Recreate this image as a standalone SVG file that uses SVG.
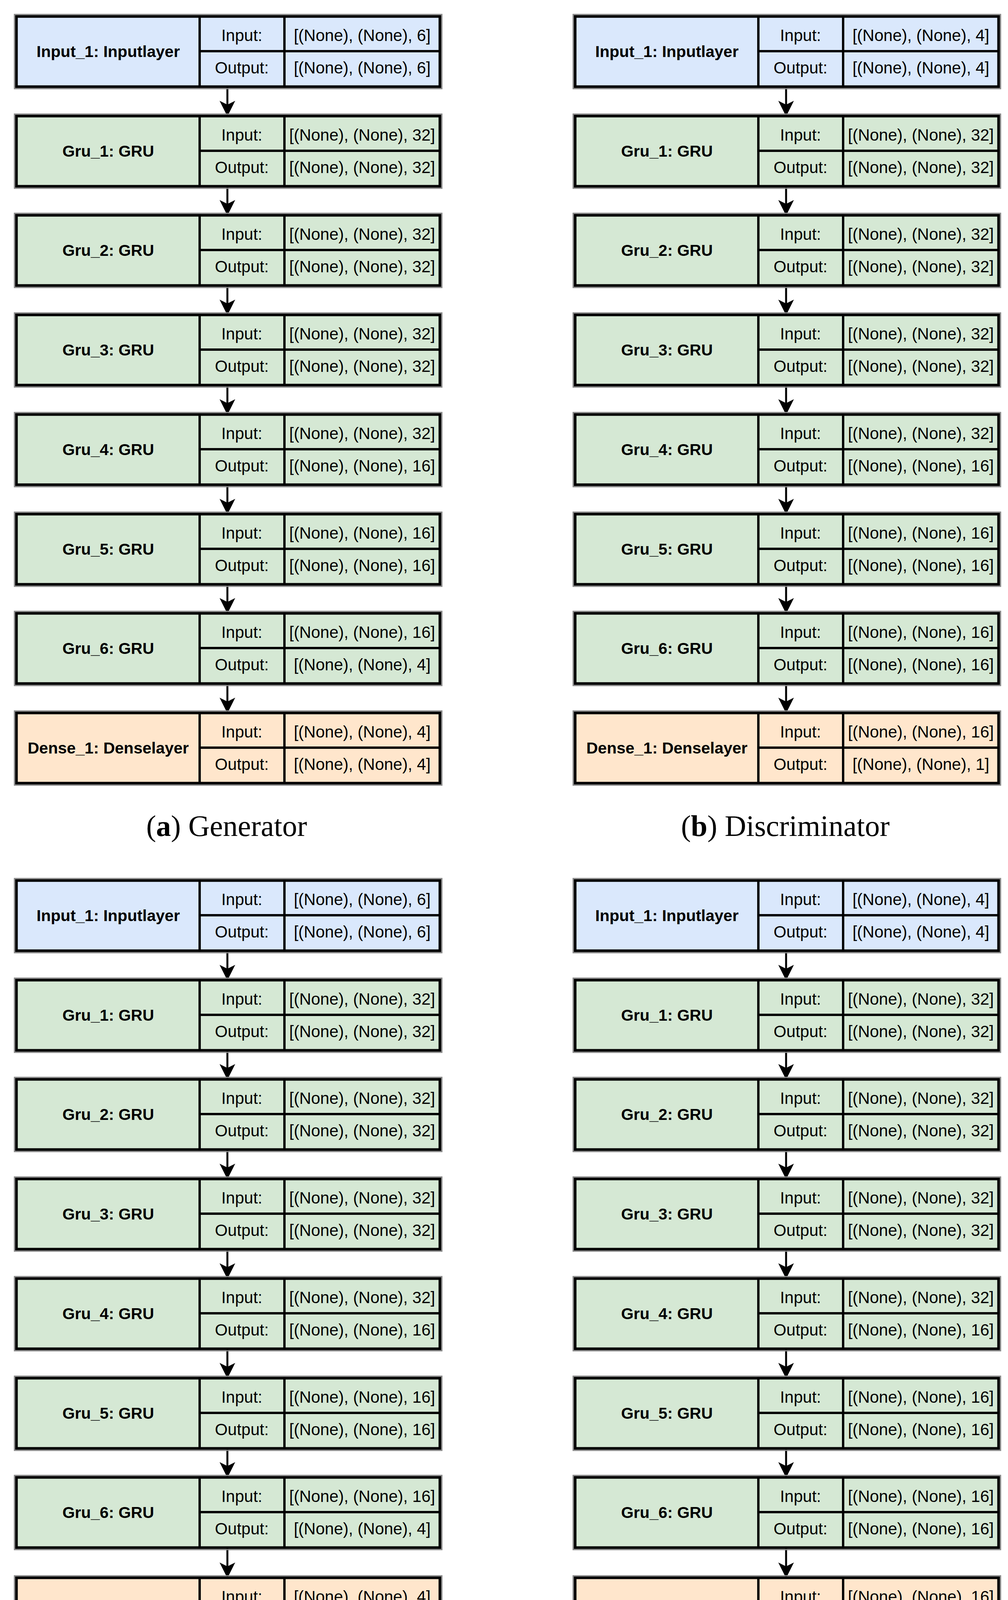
<svg xmlns="http://www.w3.org/2000/svg" width="2580" height="4396" viewBox="0 0 2580 4396">
<style>
.c{stroke:#000;stroke-width:6}
.b{fill:#dae8fc}.g{fill:#d5e8d4}.o{fill:#ffe6cc}
.n{font-family:"Liberation Sans",Arial,sans-serif;font-weight:bold;font-size:41px;text-anchor:middle}
.t{font-family:"Liberation Sans",Arial,sans-serif;font-size:42px;text-anchor:middle}
.cap{font-family:"Liberation Serif","Times New Roman",serif;font-size:76px;text-anchor:middle}
.ln{stroke:#000;stroke-width:5;fill:none}
</style>
<defs>
<marker id="ah" markerWidth="8" markerHeight="8" refX="7" refY="4" orient="auto" markerUnits="strokeWidth"><path d="M0,0 L8,4 L0,8 L2,4 z" fill="#000"/></marker>
<g id="frame"><line class="c" x1="469" y1="0" x2="469" y2="180"/><line class="c" x1="686" y1="0" x2="686" y2="180"/><line class="c" x1="469" y1="89" x2="1084" y2="89" stroke-width="8"/><rect x="0" y="0" width="1084" height="180" fill="none" stroke="#000" stroke-width="7"/><rect x="-5" y="-5" width="1094" height="190" fill="none" stroke="#888" stroke-width="3"/></g>
</defs>
<g id="connectors">
<line class="ln" x1="582" y1="222" x2="582" y2="293" marker-end="url(#ah)"/>
<line class="ln" x1="582" y1="477" x2="582" y2="547" marker-end="url(#ah)"/>
<line class="ln" x1="582" y1="731" x2="582" y2="802" marker-end="url(#ah)"/>
<line class="ln" x1="582" y1="986" x2="582" y2="1057" marker-end="url(#ah)"/>
<line class="ln" x1="582" y1="1241" x2="582" y2="1312" marker-end="url(#ah)"/>
<line class="ln" x1="582" y1="1496" x2="582" y2="1566" marker-end="url(#ah)"/>
<line class="ln" x1="582" y1="1750" x2="582" y2="1821" marker-end="url(#ah)"/>
<line class="ln" x1="2012" y1="222" x2="2012" y2="293" marker-end="url(#ah)"/>
<line class="ln" x1="2012" y1="477" x2="2012" y2="547" marker-end="url(#ah)"/>
<line class="ln" x1="2012" y1="731" x2="2012" y2="802" marker-end="url(#ah)"/>
<line class="ln" x1="2012" y1="986" x2="2012" y2="1057" marker-end="url(#ah)"/>
<line class="ln" x1="2012" y1="1241" x2="2012" y2="1312" marker-end="url(#ah)"/>
<line class="ln" x1="2012" y1="1496" x2="2012" y2="1566" marker-end="url(#ah)"/>
<line class="ln" x1="2012" y1="1750" x2="2012" y2="1821" marker-end="url(#ah)"/>
<line class="ln" x1="582" y1="2434" x2="582" y2="2505" marker-end="url(#ah)"/>
<line class="ln" x1="582" y1="2689" x2="582" y2="2759" marker-end="url(#ah)"/>
<line class="ln" x1="582" y1="2943" x2="582" y2="3014" marker-end="url(#ah)"/>
<line class="ln" x1="582" y1="3198" x2="582" y2="3269" marker-end="url(#ah)"/>
<line class="ln" x1="582" y1="3453" x2="582" y2="3524" marker-end="url(#ah)"/>
<line class="ln" x1="582" y1="3708" x2="582" y2="3778" marker-end="url(#ah)"/>
<line class="ln" x1="582" y1="3962" x2="582" y2="4035" marker-end="url(#ah)"/>
<line class="ln" x1="2012" y1="2434" x2="2012" y2="2505" marker-end="url(#ah)"/>
<line class="ln" x1="2012" y1="2689" x2="2012" y2="2759" marker-end="url(#ah)"/>
<line class="ln" x1="2012" y1="2943" x2="2012" y2="3014" marker-end="url(#ah)"/>
<line class="ln" x1="2012" y1="3198" x2="2012" y2="3269" marker-end="url(#ah)"/>
<line class="ln" x1="2012" y1="3453" x2="2012" y2="3524" marker-end="url(#ah)"/>
<line class="ln" x1="2012" y1="3708" x2="2012" y2="3778" marker-end="url(#ah)"/>
<line class="ln" x1="2012" y1="3962" x2="2012" y2="4035" marker-end="url(#ah)"/>
</g>

<!-- Panel a -->
<g id="a_input" transform="translate(42,42)"><rect class="b" width="1084" height="180"/><use href="#frame"/><text class="n" x="235" y="104">Input_1: Inputlayer</text><text class="t" x="577" y="63">Input:</text><text class="t" x="577" y="146">Output:</text><text class="t" x="885" y="63">[(None), (None), 6]</text><text class="t" x="885" y="146">[(None), (None), 6]</text></g>
<g id="a_gru1" transform="translate(42,297)"><rect class="g" width="1084" height="180"/><use href="#frame"/><text class="n" x="235" y="104">Gru_1: GRU</text><text class="t" x="577" y="63">Input:</text><text class="t" x="577" y="146">Output:</text><text class="t" x="885" y="63">[(None), (None), 32]</text><text class="t" x="885" y="146">[(None), (None), 32]</text></g>
<g id="a_gru2" transform="translate(42,551)"><rect class="g" width="1084" height="180"/><use href="#frame"/><text class="n" x="235" y="104">Gru_2: GRU</text><text class="t" x="577" y="63">Input:</text><text class="t" x="577" y="146">Output:</text><text class="t" x="885" y="63">[(None), (None), 32]</text><text class="t" x="885" y="146">[(None), (None), 32]</text></g>
<g id="a_gru3" transform="translate(42,806)"><rect class="g" width="1084" height="180"/><use href="#frame"/><text class="n" x="235" y="104">Gru_3: GRU</text><text class="t" x="577" y="63">Input:</text><text class="t" x="577" y="146">Output:</text><text class="t" x="885" y="63">[(None), (None), 32]</text><text class="t" x="885" y="146">[(None), (None), 32]</text></g>
<g id="a_gru4" transform="translate(42,1061)"><rect class="g" width="1084" height="180"/><use href="#frame"/><text class="n" x="235" y="104">Gru_4: GRU</text><text class="t" x="577" y="63">Input:</text><text class="t" x="577" y="146">Output:</text><text class="t" x="885" y="63">[(None), (None), 32]</text><text class="t" x="885" y="146">[(None), (None), 16]</text></g>
<g id="a_gru5" transform="translate(42,1316)"><rect class="g" width="1084" height="180"/><use href="#frame"/><text class="n" x="235" y="104">Gru_5: GRU</text><text class="t" x="577" y="63">Input:</text><text class="t" x="577" y="146">Output:</text><text class="t" x="885" y="63">[(None), (None), 16]</text><text class="t" x="885" y="146">[(None), (None), 16]</text></g>
<g id="a_gru6" transform="translate(42,1570)"><rect class="g" width="1084" height="180"/><use href="#frame"/><text class="n" x="235" y="104">Gru_6: GRU</text><text class="t" x="577" y="63">Input:</text><text class="t" x="577" y="146">Output:</text><text class="t" x="885" y="63">[(None), (None), 16]</text><text class="t" x="885" y="146">[(None), (None), 4]</text></g>
<g id="a_dense" transform="translate(42,1825)"><rect class="o" width="1084" height="180"/><use href="#frame"/><text class="n" x="235" y="104">Dense_1: Denselayer</text><text class="t" x="577" y="63">Input:</text><text class="t" x="577" y="146">Output:</text><text class="t" x="885" y="63">[(None), (None), 4]</text><text class="t" x="885" y="146">[(None), (None), 4]</text></g>
<text class="cap" x="580" y="2140">(<tspan font-weight="bold">a</tspan>) Generator</text>

<!-- Panel b -->
<g id="b_input" transform="translate(1472,42)"><rect class="b" width="1084" height="180"/><use href="#frame"/><text class="n" x="235" y="104">Input_1: Inputlayer</text><text class="t" x="577" y="63">Input:</text><text class="t" x="577" y="146">Output:</text><text class="t" x="885" y="63">[(None), (None), 4]</text><text class="t" x="885" y="146">[(None), (None), 4]</text></g>
<g id="b_gru1" transform="translate(1472,297)"><rect class="g" width="1084" height="180"/><use href="#frame"/><text class="n" x="235" y="104">Gru_1: GRU</text><text class="t" x="577" y="63">Input:</text><text class="t" x="577" y="146">Output:</text><text class="t" x="885" y="63">[(None), (None), 32]</text><text class="t" x="885" y="146">[(None), (None), 32]</text></g>
<g id="b_gru2" transform="translate(1472,551)"><rect class="g" width="1084" height="180"/><use href="#frame"/><text class="n" x="235" y="104">Gru_2: GRU</text><text class="t" x="577" y="63">Input:</text><text class="t" x="577" y="146">Output:</text><text class="t" x="885" y="63">[(None), (None), 32]</text><text class="t" x="885" y="146">[(None), (None), 32]</text></g>
<g id="b_gru3" transform="translate(1472,806)"><rect class="g" width="1084" height="180"/><use href="#frame"/><text class="n" x="235" y="104">Gru_3: GRU</text><text class="t" x="577" y="63">Input:</text><text class="t" x="577" y="146">Output:</text><text class="t" x="885" y="63">[(None), (None), 32]</text><text class="t" x="885" y="146">[(None), (None), 32]</text></g>
<g id="b_gru4" transform="translate(1472,1061)"><rect class="g" width="1084" height="180"/><use href="#frame"/><text class="n" x="235" y="104">Gru_4: GRU</text><text class="t" x="577" y="63">Input:</text><text class="t" x="577" y="146">Output:</text><text class="t" x="885" y="63">[(None), (None), 32]</text><text class="t" x="885" y="146">[(None), (None), 16]</text></g>
<g id="b_gru5" transform="translate(1472,1316)"><rect class="g" width="1084" height="180"/><use href="#frame"/><text class="n" x="235" y="104">Gru_5: GRU</text><text class="t" x="577" y="63">Input:</text><text class="t" x="577" y="146">Output:</text><text class="t" x="885" y="63">[(None), (None), 16]</text><text class="t" x="885" y="146">[(None), (None), 16]</text></g>
<g id="b_gru6" transform="translate(1472,1570)"><rect class="g" width="1084" height="180"/><use href="#frame"/><text class="n" x="235" y="104">Gru_6: GRU</text><text class="t" x="577" y="63">Input:</text><text class="t" x="577" y="146">Output:</text><text class="t" x="885" y="63">[(None), (None), 16]</text><text class="t" x="885" y="146">[(None), (None), 16]</text></g>
<g id="b_dense" transform="translate(1472,1825)"><rect class="o" width="1084" height="180"/><use href="#frame"/><text class="n" x="235" y="104">Dense_1: Denselayer</text><text class="t" x="577" y="63">Input:</text><text class="t" x="577" y="146">Output:</text><text class="t" x="885" y="63">[(None), (None), 16]</text><text class="t" x="885" y="146">[(None), (None), 1]</text></g>
<text class="cap" x="2010" y="2140">(<tspan font-weight="bold">b</tspan>) Discriminator</text>

<!-- Panel c -->
<g id="c_input" transform="translate(42,2254)"><rect class="b" width="1084" height="180"/><use href="#frame"/><text class="n" x="235" y="104">Input_1: Inputlayer</text><text class="t" x="577" y="63">Input:</text><text class="t" x="577" y="146">Output:</text><text class="t" x="885" y="63">[(None), (None), 6]</text><text class="t" x="885" y="146">[(None), (None), 6]</text></g>
<g id="c_gru1" transform="translate(42,2509)"><rect class="g" width="1084" height="180"/><use href="#frame"/><text class="n" x="235" y="104">Gru_1: GRU</text><text class="t" x="577" y="63">Input:</text><text class="t" x="577" y="146">Output:</text><text class="t" x="885" y="63">[(None), (None), 32]</text><text class="t" x="885" y="146">[(None), (None), 32]</text></g>
<g id="c_gru2" transform="translate(42,2763)"><rect class="g" width="1084" height="180"/><use href="#frame"/><text class="n" x="235" y="104">Gru_2: GRU</text><text class="t" x="577" y="63">Input:</text><text class="t" x="577" y="146">Output:</text><text class="t" x="885" y="63">[(None), (None), 32]</text><text class="t" x="885" y="146">[(None), (None), 32]</text></g>
<g id="c_gru3" transform="translate(42,3018)"><rect class="g" width="1084" height="180"/><use href="#frame"/><text class="n" x="235" y="104">Gru_3: GRU</text><text class="t" x="577" y="63">Input:</text><text class="t" x="577" y="146">Output:</text><text class="t" x="885" y="63">[(None), (None), 32]</text><text class="t" x="885" y="146">[(None), (None), 32]</text></g>
<g id="c_gru4" transform="translate(42,3273)"><rect class="g" width="1084" height="180"/><use href="#frame"/><text class="n" x="235" y="104">Gru_4: GRU</text><text class="t" x="577" y="63">Input:</text><text class="t" x="577" y="146">Output:</text><text class="t" x="885" y="63">[(None), (None), 32]</text><text class="t" x="885" y="146">[(None), (None), 16]</text></g>
<g id="c_gru5" transform="translate(42,3528)"><rect class="g" width="1084" height="180"/><use href="#frame"/><text class="n" x="235" y="104">Gru_5: GRU</text><text class="t" x="577" y="63">Input:</text><text class="t" x="577" y="146">Output:</text><text class="t" x="885" y="63">[(None), (None), 16]</text><text class="t" x="885" y="146">[(None), (None), 16]</text></g>
<g id="c_gru6" transform="translate(42,3782)"><rect class="g" width="1084" height="180"/><use href="#frame"/><text class="n" x="235" y="104">Gru_6: GRU</text><text class="t" x="577" y="63">Input:</text><text class="t" x="577" y="146">Output:</text><text class="t" x="885" y="63">[(None), (None), 16]</text><text class="t" x="885" y="146">[(None), (None), 4]</text></g>
<g id="c_dense" transform="translate(42,4039)"><rect class="o" width="1084" height="180"/><use href="#frame"/><text class="n" x="235" y="104">Dense_1: Denselayer</text><text class="t" x="577" y="63">Input:</text><text class="t" x="577" y="146">Output:</text><text class="t" x="885" y="63">[(None), (None), 4]</text><text class="t" x="885" y="146">[(None), (None), 4]</text></g>
<text class="cap" x="580" y="4355">(<tspan font-weight="bold">c</tspan>) Embedder</text>

<!-- Panel d -->
<g id="d_input" transform="translate(1472,2254)"><rect class="b" width="1084" height="180"/><use href="#frame"/><text class="n" x="235" y="104">Input_1: Inputlayer</text><text class="t" x="577" y="63">Input:</text><text class="t" x="577" y="146">Output:</text><text class="t" x="885" y="63">[(None), (None), 4]</text><text class="t" x="885" y="146">[(None), (None), 4]</text></g>
<g id="d_gru1" transform="translate(1472,2509)"><rect class="g" width="1084" height="180"/><use href="#frame"/><text class="n" x="235" y="104">Gru_1: GRU</text><text class="t" x="577" y="63">Input:</text><text class="t" x="577" y="146">Output:</text><text class="t" x="885" y="63">[(None), (None), 32]</text><text class="t" x="885" y="146">[(None), (None), 32]</text></g>
<g id="d_gru2" transform="translate(1472,2763)"><rect class="g" width="1084" height="180"/><use href="#frame"/><text class="n" x="235" y="104">Gru_2: GRU</text><text class="t" x="577" y="63">Input:</text><text class="t" x="577" y="146">Output:</text><text class="t" x="885" y="63">[(None), (None), 32]</text><text class="t" x="885" y="146">[(None), (None), 32]</text></g>
<g id="d_gru3" transform="translate(1472,3018)"><rect class="g" width="1084" height="180"/><use href="#frame"/><text class="n" x="235" y="104">Gru_3: GRU</text><text class="t" x="577" y="63">Input:</text><text class="t" x="577" y="146">Output:</text><text class="t" x="885" y="63">[(None), (None), 32]</text><text class="t" x="885" y="146">[(None), (None), 32]</text></g>
<g id="d_gru4" transform="translate(1472,3273)"><rect class="g" width="1084" height="180"/><use href="#frame"/><text class="n" x="235" y="104">Gru_4: GRU</text><text class="t" x="577" y="63">Input:</text><text class="t" x="577" y="146">Output:</text><text class="t" x="885" y="63">[(None), (None), 32]</text><text class="t" x="885" y="146">[(None), (None), 16]</text></g>
<g id="d_gru5" transform="translate(1472,3528)"><rect class="g" width="1084" height="180"/><use href="#frame"/><text class="n" x="235" y="104">Gru_5: GRU</text><text class="t" x="577" y="63">Input:</text><text class="t" x="577" y="146">Output:</text><text class="t" x="885" y="63">[(None), (None), 16]</text><text class="t" x="885" y="146">[(None), (None), 16]</text></g>
<g id="d_gru6" transform="translate(1472,3782)"><rect class="g" width="1084" height="180"/><use href="#frame"/><text class="n" x="235" y="104">Gru_6: GRU</text><text class="t" x="577" y="63">Input:</text><text class="t" x="577" y="146">Output:</text><text class="t" x="885" y="63">[(None), (None), 16]</text><text class="t" x="885" y="146">[(None), (None), 16]</text></g>
<g id="d_dense" transform="translate(1472,4039)"><rect class="o" width="1084" height="180"/><use href="#frame"/><text class="n" x="235" y="104">Dense_1: Denselayer</text><text class="t" x="577" y="63">Input:</text><text class="t" x="577" y="146">Output:</text><text class="t" x="885" y="63">[(None), (None), 16]</text><text class="t" x="885" y="146">[(None), (None), 1]</text></g>
<text class="cap" x="2010" y="4355">(<tspan font-weight="bold">d</tspan>) Recovery</text>
</svg>
